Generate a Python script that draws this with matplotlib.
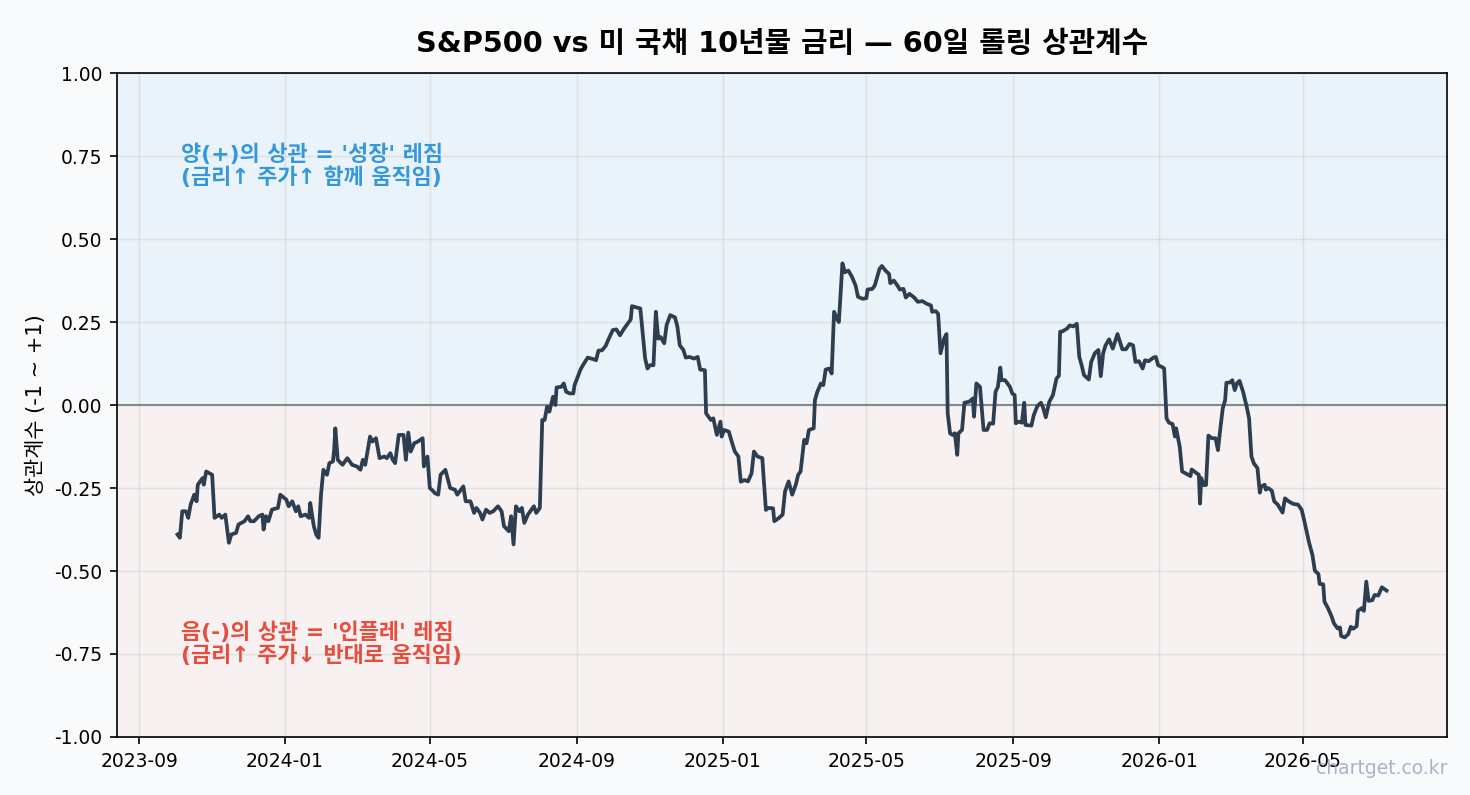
# S&P500 vs 10Y rate, 60-day rolling correlation
import numpy as np
import pandas as pd
import matplotlib
matplotlib.use("Agg")
import matplotlib.pyplot as plt
import matplotlib.dates as mdates

plt.rcParams['font.family'] = ['DejaVu Sans', 'Noto Sans CJK KR']
plt.rcParams['axes.unicode_minus'] = False

start = pd.Timestamp('2023-09-01')

# days since start
days = [32, 34, 36, 39, 41, 43, 46, 48, 49, 53, 54, 56, 61, 63, 67, 69, 72, 75, 77, 81,
        83, 88, 91, 93, 96, 100, 103, 104, 106, 108, 111, 116, 118, 123, 125, 128, 131, 133, 135, 139,
        142, 143, 146, 148, 150, 152, 154, 157, 159, 162, 163, 164, 166, 170, 174, 178, 182, 185, 187, 189,
        193, 195, 198, 201, 205, 207, 210, 212, 214, 217, 221, 223, 225, 227, 230, 233, 237, 238, 241, 243,
        246, 247, 250, 252, 256, 260, 264, 266, 271, 273, 277, 280, 282, 285, 287, 290, 293, 296, 300, 303,
        305, 309, 311, 313, 315, 318, 320, 322, 325, 330, 332, 335, 337, 339, 341, 343, 346, 348, 349, 353,
        355, 357, 360, 363, 364, 369, 371, 375, 380, 382, 384, 387, 390, 392, 396, 399, 402, 405, 409, 411,
        412, 416, 419, 421, 423, 425, 427, 430, 432, 434, 436, 439, 441, 444, 448, 450, 452, 455, 457, 460,
        464, 467, 469, 473, 474, 476, 478, 480, 483, 486, 487, 489, 493, 495, 498, 501, 503, 506, 509, 512,
        514, 517, 521, 524, 526, 530, 531, 535, 538, 540, 543, 546, 549, 551, 553, 556, 558, 560, 564, 565,
        567, 570, 572, 574, 577, 579, 581, 584, 585, 587, 588, 590, 593, 596, 599, 601, 605, 608, 609, 613,
        615, 619, 621, 624, 627, 628, 631, 634, 636, 639, 641, 644, 648, 651, 655, 658, 662, 663, 666, 668,
        670, 673, 675, 676, 678, 680, 682, 684, 685, 688, 690, 694, 697, 698, 700, 703, 706, 709, 711, 714,
        716, 718, 720, 721, 724, 728, 730, 732, 733, 735, 738, 740, 741, 746, 748, 751, 754, 756, 758, 761,
        764, 767, 769, 770, 772, 776, 778, 781, 784, 786, 788, 790, 794, 796, 799, 802, 804, 806, 808, 811,
        814, 818, 822, 825, 828, 831, 833, 836, 839, 841, 844, 848, 850, 852, 855, 857, 859, 861, 864, 866,
        867, 870, 872, 876, 879, 880, 884, 886, 887, 888, 890, 892, 894, 897, 900, 902, 904, 906, 908, 909,
        912, 914, 916, 918, 920, 923, 926, 928, 930, 932, 935, 937, 938, 941, 942, 944, 947, 949, 952, 956,
        958, 961, 965, 969, 972, 974, 978, 981, 983, 986, 987, 990, 991, 994, 997, 999, 1002, 1004, 1005, 1008,
        1011, 1013, 1015, 1018, 1019, 1022, 1024, 1026, 1028, 1031, 1033, 1036, 1039, 1043]

corr = [-0.39, -0.40, -0.32, -0.32, -0.34, -0.30, -0.27, -0.29, -0.24, -0.22, -0.24, -0.20, -0.21, -0.34, -0.33, -0.34, -0.33, -0.415, -0.39, -0.385,
        -0.36, -0.35, -0.335, -0.35, -0.35, -0.335, -0.33, -0.375, -0.335, -0.35, -0.315, -0.31, -0.27, -0.285, -0.305, -0.29, -0.32, -0.305, -0.335, -0.33,
        -0.34, -0.295, -0.365, -0.39, -0.40, -0.27, -0.195, -0.21, -0.175, -0.17, -0.135, -0.07, -0.165, -0.18, -0.16, -0.18, -0.185, -0.195, -0.165, -0.18,
        -0.095, -0.11, -0.10, -0.16, -0.155, -0.16, -0.145, -0.165, -0.175, -0.09, -0.09, -0.165, -0.083, -0.14, -0.115, -0.11, -0.10, -0.185, -0.155, -0.25,
        -0.26, -0.265, -0.27, -0.21, -0.195, -0.25, -0.255, -0.27, -0.245, -0.29, -0.29, -0.325, -0.31, -0.325, -0.345, -0.315, -0.325, -0.32, -0.305, -0.32,
        -0.365, -0.38, -0.335, -0.42, -0.305, -0.32, -0.31, -0.355, -0.33, -0.305, -0.325, -0.31, -0.045, -0.045, -0.005, -0.02, 0.025, 0.0, 0.053, 0.055,
        0.065, 0.04, 0.035, 0.035, 0.06, 0.107, 0.12, 0.143, 0.138, 0.135, 0.164, 0.165, 0.178, 0.195, 0.226, 0.228, 0.21, 0.228, 0.248, 0.258,
        0.298, 0.294, 0.291, 0.216, 0.141, 0.11, 0.12, 0.12, 0.281, 0.20, 0.205, 0.186, 0.241, 0.271, 0.264, 0.236, 0.18, 0.166, 0.143, 0.145,
        0.14, 0.145, 0.107, 0.105, -0.025, -0.035, -0.045, -0.04, -0.09, -0.05, -0.095, -0.075, -0.08, -0.105, -0.14, -0.155, -0.231, -0.226, -0.23, -0.206,
        -0.14, -0.155, -0.16, -0.316, -0.31, -0.311, -0.35, -0.34, -0.33, -0.26, -0.23, -0.27, -0.24, -0.21, -0.20, -0.105, -0.115, -0.075, -0.07, 0.015,
        0.04, 0.065, 0.06, 0.107, 0.11, 0.095, 0.281, 0.256, 0.25, 0.371, 0.427, 0.40, 0.405, 0.386, 0.36, 0.326, 0.32, 0.322, 0.348, 0.35,
        0.36, 0.41, 0.419, 0.405, 0.395, 0.367, 0.375, 0.36, 0.348, 0.35, 0.324, 0.335, 0.324, 0.311, 0.313, 0.306, 0.30, 0.281, 0.283, 0.275,
        0.156, 0.20, 0.214, -0.025, -0.085, -0.09, -0.085, -0.15, -0.085, -0.075, 0.007, 0.01, 0.02, -0.035, 0.065, 0.055, -0.075, -0.075, -0.055, -0.056,
        0.04, 0.055, 0.113, 0.075, 0.075, 0.055, 0.035, 0.03, -0.055, -0.05, -0.053, 0.007, -0.06, -0.062, -0.03, -0.003, 0.007, -0.01, -0.037, 0.01,
        0.03, 0.08, 0.088, 0.221, 0.222, 0.231, 0.24, 0.237, 0.245, 0.146, 0.12, 0.09, 0.077, 0.13, 0.156, 0.166, 0.087, 0.156, 0.18, 0.198,
        0.17, 0.214, 0.168, 0.168, 0.184, 0.18, 0.13, 0.132, 0.11, 0.135, 0.132, 0.143, 0.145, 0.12, 0.115, 0.11, -0.04, -0.053, -0.057, -0.095,
        -0.07, -0.125, -0.20, -0.208, -0.214, -0.194, -0.205, -0.21, -0.297, -0.22, -0.241, -0.241, -0.092, -0.10, -0.10, -0.136, -0.07, -0.01, 0.015, 0.067,
        0.068, 0.075, 0.045, 0.066, 0.073, 0.04, -0.005, -0.04, -0.155, -0.176, -0.19, -0.264, -0.246, -0.24, -0.255, -0.25, -0.258, -0.29, -0.30, -0.324,
        -0.281, -0.29, -0.298, -0.30, -0.316, -0.346, -0.412, -0.452, -0.499, -0.509, -0.539, -0.54, -0.592, -0.612, -0.637, -0.658, -0.673, -0.67, -0.696, -0.70,
        -0.69, -0.668, -0.674, -0.666, -0.62, -0.612, -0.62, -0.532, -0.59, -0.588, -0.572, -0.574, -0.549, -0.559]

dates = start + pd.to_timedelta(days, unit='D')

fig = plt.figure(figsize=(9.8, 5.3), dpi=150, facecolor='#f8fafc')
ax = fig.add_subplot(111)
fig.subplots_adjust(left=0.0796, right=0.9844, top=0.908, bottom=0.073)
ax.set_facecolor('#f8fafc')

ax.axhspan(0, 1, color='#3498db', alpha=0.07, lw=0)
ax.axhspan(-1, 0, color='#e74c3c', alpha=0.05, lw=0)
ax.axhline(0, color='#7f8c8d', lw=1.0)
ax.plot(dates, corr, color='#2c3e50', lw=1.8)

ax.set_ylim(-1, 1)
ax.set_yticks(np.arange(-1, 1.01, 0.25))
ax.yaxis.set_major_formatter(plt.FormatStrFormatter('%.2f'))
ax.xaxis.set_major_locator(mdates.MonthLocator(bymonth=[1, 5, 9]))
ax.xaxis.set_major_formatter(mdates.DateFormatter('%Y-%m'))
ax.tick_params(labelsize=9)
ax.grid(True, color='#cccccc', alpha=0.45, lw=0.7)

ax.set_ylabel('상관계수 (-1 ~ +1)', fontsize=10)
ax.set_title('S&P500 vs 미 국채 10년물 금리 — 60일 롤링 상관계수',
             fontsize=13.8, fontweight='bold', pad=10)

ax.text(0.048, 0.86, "양(+)의 상관 = '성장' 레짐\n(금리↑ 주가↑ 함께 움직임)",
        transform=ax.transAxes, color='#3498db', fontsize=10.5, fontweight='bold',
        va='center', ha='left', linespacing=1.1)
ax.text(0.048, 0.14, "음(-)의 상관 = '인플레' 레짐\n(금리↑ 주가↓ 반대로 움직임)",
        transform=ax.transAxes, color='#e74c3c', fontsize=10.5, fontweight='bold',
        va='center', ha='left', linespacing=1.1)

fig.text(0.985, 0.033, 'chartget.co.kr', color='#94a3b8', alpha=0.8, fontsize=9,
         ha='right', va='center')

fig.savefig('out.png', dpi=150, facecolor=fig.get_facecolor())
